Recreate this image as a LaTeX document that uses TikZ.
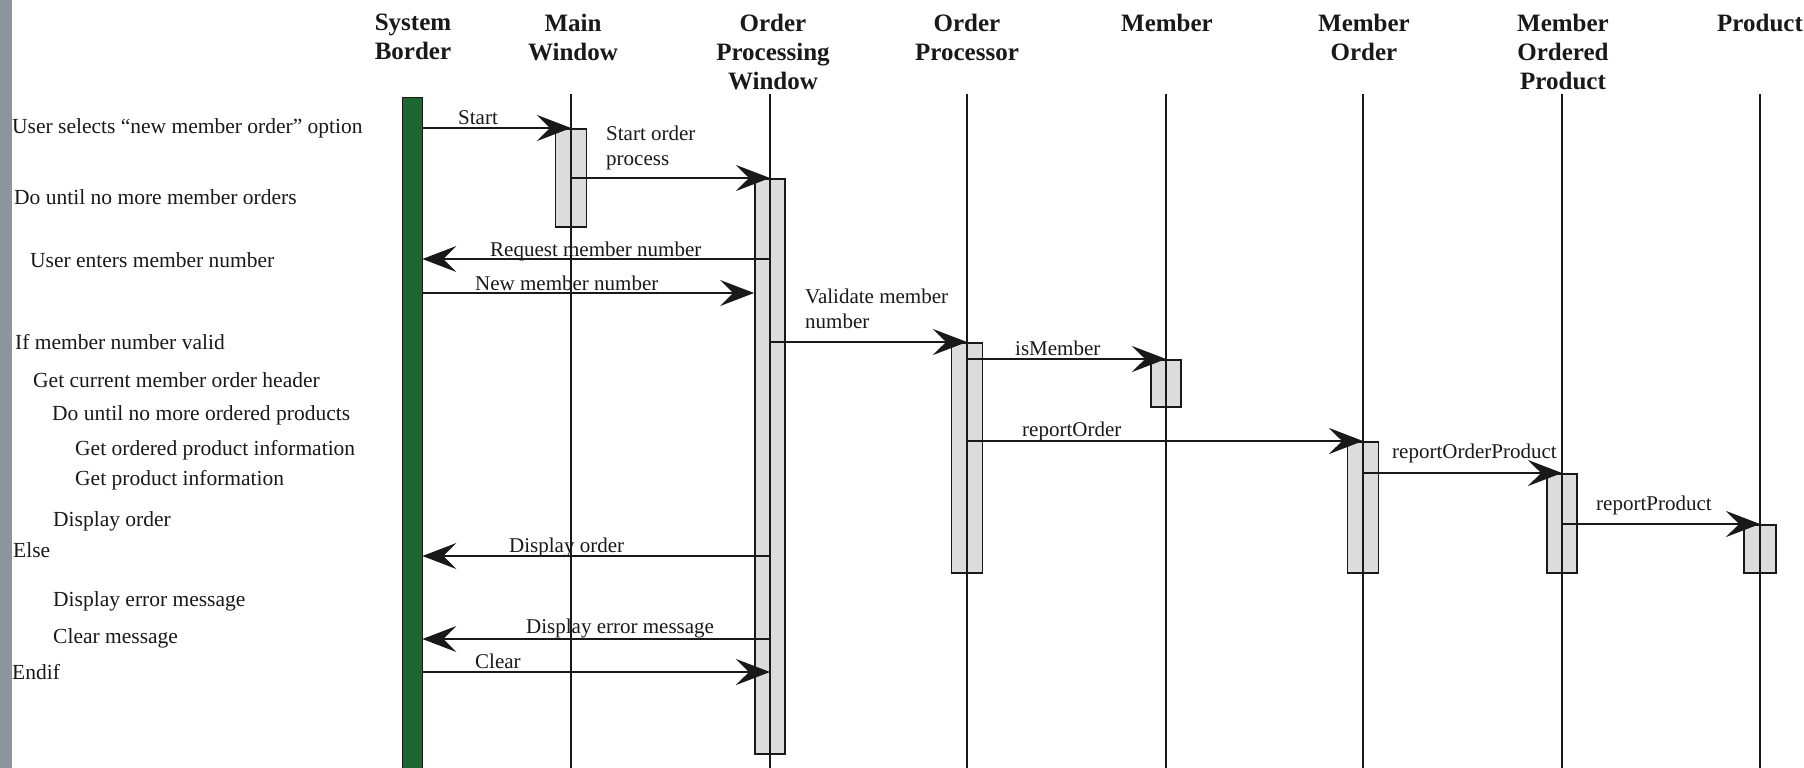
\documentclass[tikz,border=0pt]{standalone}
\usepackage{fontspec}
\setmainfont{Liberation Serif}
\usetikzlibrary{arrows.meta}
\definecolor{sbgreen}{RGB}{28,102,50}
\definecolor{stripgray}{RGB}{138,150,155}
\definecolor{actgray}{RGB}{220,220,220}
\definecolor{ink}{RGB}{25,25,25}
\begin{document}
\begin{tikzpicture}[x=1pt,y=-1pt,
  hdr/.style={font=\bfseries\fontsize{25}{29}\selectfont, align=center, anchor=north, inner sep=0pt, text=ink},
  side/.style={font=\fontsize{21.5}{25}\selectfont, anchor=base west, inner sep=0pt, text=ink},
  lbl/.style={font=\fontsize{21}{24.5}\selectfont, anchor=base west, inner sep=0pt, text=ink},
  lbltwo/.style={font=\fontsize{21}{24.5}\selectfont, align=left, anchor=north west, inner sep=0pt, text=ink},
  life/.style={line width=2pt, ink},
  act/.style={draw=ink, line width=1.8pt, fill=actgray, anchor=north, inner sep=0pt},
  msg/.style={line width=2.2pt, ink, -{Stealth[length=34pt,width=26pt,inset=13pt]}},
]
\useasboundingbox (0,0) rectangle (1804,768);
\fill[white] (0,0) rectangle (1804,768);
\fill[stripgray] (0,0) rectangle (12,768);
\coordinate (bot) at (0,768);

% headers
\node[hdr] (hSB) at (413,13.5) {System\\Border};
\node[hdr] (hMW) at (573,13.5) {Main\\Window};
\node[hdr] (hOPW) at (773,13.5) {Order\\Processing\\Window};
\node[hdr] (hOP) at (967,13.5) {Order\\Processor};
\node[hdr] (hM) at (1167,13.5) {Member};
\node[hdr] (hMO) at (1364,13.5) {Member\\Order};
\node[hdr] (hMOP) at (1563,13.5) {Member\\Ordered\\Product};
\node[hdr] (hP) at (1760,13.5) {Product};

% lifeline tops
\coordinate (lMW) at (571,94);
\coordinate (lOPW) at (770,94);
\coordinate (lOP) at (967,94);
\coordinate (lM) at (1166,94);
\coordinate (lMO) at (1363,94);
\coordinate (lMOP) at (1562,94);
\coordinate (lP) at (1760,94);

% system border bar
\node[draw=ink, line width=0.8pt, fill=sbgreen, minimum width=20pt, minimum height=672pt, anchor=north, inner sep=0pt] (sb) at (412,97) {};

% activation boxes
\node[act, minimum width=31pt, minimum height=98pt] (mwa) at (571,128) {};
\node[act, minimum width=30pt, minimum height=575pt] (opwa) at (770,178) {};
\node[act, minimum width=31pt, minimum height=230pt] (opa) at (967,342) {};
\node[act, minimum width=30pt, minimum height=47pt] (ma) at (1166,359) {};
\node[act, minimum width=31pt, minimum height=131pt] (moa) at (1363,441) {};
\node[act, minimum width=30pt, minimum height=99pt] (mopa) at (1562,473) {};
\node[act, minimum width=32pt, minimum height=48pt] (pa) at (1760,524) {};

% lifelines
\foreach \l in {lMW,lOPW,lOP,lM,lMO,lMOP,lP} {
  \draw[life] (\l) -- (\l |- bot);
}

% messages
\draw[msg] (sb.east |- mwa.north) -- (mwa.north);
\draw[msg] (mwa.center |- opwa.north) -- (opwa.north);
\coordinate (mReq) at (770,259);
\draw[msg] (mReq) -- (mReq -| sb.east);
\coordinate (mNew) at (422,293);
\draw[msg] (mNew) -- (mNew -| opwa.west);
\draw[msg] (opwa.center |- opa.north) -- (opa.north);
\draw[msg] (opa.center |- ma.north) -- (ma.north);
\draw[msg] (opa.center |- moa.north) -- (moa.north);
\draw[msg] (moa.center |- mopa.north) -- (mopa.north);
\draw[msg] (mopa.center |- pa.north) -- (pa.north);
\coordinate (mDisp) at (770,556);
\draw[msg] (mDisp) -- (mDisp -| sb.east);
\coordinate (mErr) at (770,639);
\draw[msg] (mErr) -- (mErr -| sb.east);
\coordinate (mClr) at (422,672);
\draw[msg] (mClr) -- (mClr -| opwa.center);

% message labels
\node[lbl] (tStart) at (458,124) {Start};
\node[lbltwo] (tSop) at (606,126) {Start order\\process};
\node[lbl] (tReq) at (490,256) {Request member number};
\node[lbl] (tNew) at (475,290) {New member number};
\node[lbltwo] (tVal) at (805,289) {Validate member\\number};
\node[lbl] (tIs) at (1015,355) {isMember};
\node[lbl] (tRO) at (1022,436) {reportOrder};
\node[lbl] (tROP) at (1392,458) {reportOrderProduct};
\node[lbl] (tRP) at (1596,510) {reportProduct};
\node[lbl] (tDisp) at (509,552) {Display order};
\node[lbl] (tErr) at (526,633) {Display error message};
\node[lbl] (tClr) at (475,668) {Clear};

% side script
\node[side] (s1) at (12,133) {User selects “new member order” option};
\node[side] (s2) at (14,204) {Do until no more member orders};
\node[side] (s3) at (30,267) {User enters member number};
\node[side] (s4) at (15,349) {If member number valid};
\node[side] (s5) at (33,387) {Get current member order header};
\node[side] (s6) at (52,420) {Do until no more ordered products};
\node[side] (s7) at (75,455) {Get ordered product information};
\node[side] (s8) at (75,485) {Get product information};
\node[side] (s9) at (53,526) {Display order};
\node[side] (s10) at (13,557) {Else};
\node[side] (s11) at (53,606) {Display error message};
\node[side] (s12) at (53,643) {Clear message};
\node[side] (s13) at (12,679) {Endif};
\end{tikzpicture}
\end{document}
